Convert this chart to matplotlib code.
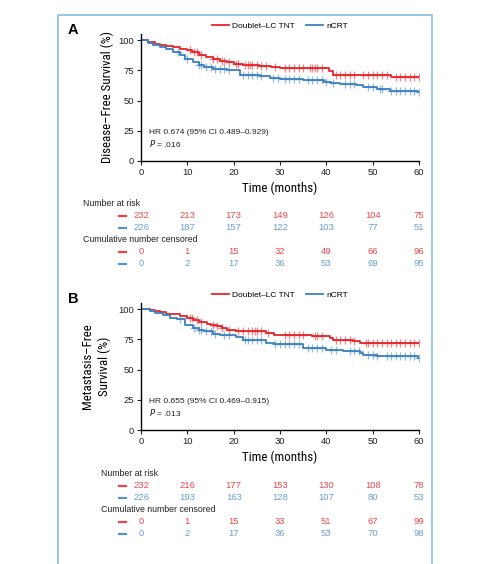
import numpy as np
import matplotlib
matplotlib.use('Agg')
import matplotlib.pyplot as plt
from matplotlib import transforms, font_manager
from matplotlib.lines import Line2D

plt.rcParams['font.family'] = ['Liberation Sans', 'DejaVu Sans']

# axis titles in the original are set in a condensed sans; use one if installed
narrow_file = None
for f in font_manager.fontManager.ttflist:
    n = (f.name + ' ' + f.fname).lower()
    if ('narrow' in n or 'condensed' in n) and f.weight in (400, 'normal') and f.style == 'normal' \
            and 'mono' not in n and 'serif' not in n.replace('sans', ''):
        narrow_file = f.fname
        if 'liberation' in n:
            break
if narrow_file:
    label_font = dict(fontproperties=font_manager.FontProperties(fname=narrow_file, size=9.3))
else:
    label_font = dict(fontsize=8.0)

# colours
red = '#e5252b'
blue = '#3b80c2'
red_txt = '#eb4a4f'
blue_txt = '#6aa0d3'

# Panel A: Disease-free survival (step changes)
dfs_tnt_t = [0, 1.6, 3, 4, 5.5, 7, 8.5, 10, 11, 12.5, 14, 15.5, 17, 18.5, 20, 22, 25.5, 28, 30, 40.5, 41.5, 47, 54, 60]
dfs_tnt_s = [100, 98.5, 97, 96, 95, 94, 93, 91.5, 90, 88, 86, 84.5, 83, 81.5, 80, 79.3, 78.5, 77.5, 76.5, 74.5, 71.5, 71, 69.8, 69.5]
dfs_ncrt_t = [0, 1.5, 2.5, 4, 5.5, 7, 8.4, 9.5, 11.3, 12.5, 13.5, 15.5, 18.5, 21.4, 25.7, 27.8, 30, 35, 39.4, 41, 43, 46.5, 48, 51, 53.7, 59.7, 60]
dfs_ncrt_s = [100, 97.5, 96, 94.5, 92.5, 90.5, 87.8, 84.3, 81.5, 79.5, 78, 76.3, 75.2, 71.3, 70.2, 68.8, 68.2, 66.6, 65.7, 64.8, 63.5, 62.8, 60.8, 59.8, 58.2, 57, 57]
dfs_tnt_cens = [10.5, 11.5, 12, 13, 15.5, 16.5, 17.5, 18, 19, 20.5, 21, 22.5, 23, 23.5, 24, 25, 26, 27, 29, 31, 32, 33, 34, 35,
                36.5, 37, 37.5, 38, 39, 42, 43, 44, 45, 46, 48, 49, 50, 51, 52, 53, 55, 56, 57, 58, 59, 60]
dfs_ncrt_cens = [8, 10, 12.5, 13, 14, 15, 16, 17, 18, 19, 22, 23, 24, 25, 26, 28.5, 29.5, 31, 32, 33, 34, 36, 37, 38, 39,
                 40, 41.5, 44, 45, 46, 49, 50, 51.5, 52, 54, 55, 56, 57, 58, 59, 60]

# Panel B: Metastasis-free survival
mfs_tnt_t = [0, 2, 3, 4.1, 5.5, 7, 8.5, 9.9, 11.3, 12.5, 14.2, 15.2, 16.3, 17.5, 18.5, 20.6, 27, 28.6, 37, 40.8, 41.5, 45.8, 47.3, 60]
mfs_tnt_s = [100, 99, 98, 97.2, 96.3, 95.6, 94.5, 93, 90.8, 89.5, 88, 87, 85.8, 84.5, 83, 81.7, 80.3, 78.3, 77.5, 76, 74.7, 73.3, 72.3, 72.2]
mfs_ncrt_t = [0, 2, 3, 4.8, 6.3, 7.7, 9.5, 11.3, 12.5, 13.5, 15.6, 17, 20.6, 22, 27, 28.6, 35, 40, 43.7, 47.3, 48, 50.9, 59.8, 60]
mfs_ncrt_s = [100, 98.5, 97, 95, 93, 91.4, 86.7, 84.5, 83, 82, 79.7, 78.9, 77, 74.2, 72.2, 71.4, 68, 66.4, 65, 63.6, 61.7, 60.8, 59.4, 59.4]
mfs_tnt_cens = [10.5, 11, 12, 13, 15.5, 16.5, 17.5, 19, 21, 22, 23, 24, 24.5, 25, 26, 27.5, 31, 32, 33, 34, 35, 37.5, 38,
                39, 42, 43, 44, 45, 46, 48.5, 49, 50, 51, 52, 53, 54, 55, 56, 57, 58, 59, 60]
mfs_ncrt_cens = [8.5, 11.5, 12.5, 13, 14, 15, 16, 18, 19, 22.5, 23, 24, 25, 26, 29, 30, 31, 32, 33, 34, 36, 37, 38, 39, 41,
                 42, 45, 46, 47, 49, 50, 51, 53, 54, 55, 56, 57, 58, 59, 60]

# risk tables
table_times = [0, 10, 20, 30, 40, 50, 60]
dfs_risk_tnt = [232, 213, 173, 149, 126, 104, 75]
dfs_risk_ncrt = [226, 187, 157, 122, 103, 77, 51]
dfs_cens_tnt = [0, 1, 15, 32, 49, 66, 96]
dfs_cens_ncrt = [0, 2, 17, 36, 53, 69, 95]
mfs_risk_tnt = [232, 216, 177, 153, 130, 108, 78]
mfs_risk_ncrt = [226, 193, 163, 128, 107, 80, 53]
mfs_cens_tnt = [0, 1, 15, 33, 51, 67, 99]
mfs_cens_ncrt = [0, 2, 17, 36, 53, 70, 98]

W, H = 495, 564
fig = plt.figure(figsize=(W / 100, H / 100), dpi=100)


def fx(px):
    return px / W


def fy(py):
    return 1 - py / H


# light blue frame around the figure panel
fig.add_artist(Line2D([fx(58), fx(58), fx(432), fx(432)], [0, fy(15), fy(15), 0],
                      transform=fig.transFigure, color='#86bde0', lw=1.2))


def surv_at(times, surv, t):
    i = np.searchsorted(times, t, side='right') - 1
    return surv[max(i, 0)]


def km_panel(top, letter, ylabel, ylabel_x, hr, pval,
             tnt_t, tnt_s, ncrt_t, ncrt_s, tnt_c, ncrt_c):
    ax = fig.add_axes([fx(141), fy(top + 127), fx(419) - fx(141), 127 / H])
    ax.step(tnt_t, tnt_s, where='post', color=red, lw=1.3, label='Doublet\u2013LC TNT')
    ax.step(ncrt_t, ncrt_s, where='post', color=blue, lw=1.3, label='nCRT')
    ax.plot(tnt_c, [surv_at(tnt_t, tnt_s, c) for c in tnt_c], '+', color=red,
            ms=5.5, mew=0.9, alpha=0.55)
    ax.plot(ncrt_c, [surv_at(ncrt_t, ncrt_s, c) for c in ncrt_c], '+', color=blue,
            ms=5.5, mew=0.9, alpha=0.55)
    ax.set_xlim(0, 60)
    ax.set_ylim(0, 105)
    ax.set_xticks(table_times)
    ax.set_yticks([0, 25, 50, 75, 100])
    for s in ['top', 'right']:
        ax.spines[s].set_visible(False)
    ax.spines['left'].set_linewidth(1.0)
    ax.spines['bottom'].set_linewidth(1.0)
    ax.tick_params(labelsize=6.8, length=3, width=0.8, pad=2, colors='#222222')
    ax.legend(loc='center', bbox_to_anchor=(0.5, 1.063), ncol=2, frameon=False,
              fontsize=6.0, handlelength=2.0, columnspacing=1.4, handletextpad=0.4)
    ax.text(0.03, 0.21, hr, transform=ax.transAxes, fontsize=6.0, color='#222222')
    ax.text(0.03, 0.11, '$P$ = ' + pval, transform=ax.transAxes, fontsize=6.0, color='#222222')
    fig.text(fx(68), fy(top - 4), letter, fontsize=10.5, fontweight='bold', va='center')
    fig.text(fx(ylabel_x), fy(top + 63), ylabel, rotation=90, ha='center', va='center',
             linespacing=1.3, **label_font)
    fig.text(fx(280), fy(top + 154), 'Time (months)', ha='center', va='center', **label_font)
    return ax


def risk_table(ax, y0, title_x, risk_tnt, risk_ncrt, cens_tnt, cens_ncrt):
    tr = transforms.blended_transform_factory(ax.transData, fig.transFigure)
    rows = [(y0, None, 'Number at risk', None),
            (y0 + 12, red_txt, risk_tnt, red),
            (y0 + 24, blue_txt, risk_ncrt, blue),
            (y0 + 36, None, 'Cumulative number censored', None),
            (y0 + 48, red_txt, cens_tnt, red),
            (y0 + 60, blue_txt, cens_ncrt, blue)]
    for y, c, vals, lc in rows:
        if c is None:
            fig.text(fx(title_x), fy(y), vals, fontsize=6.3, va='center', color='#222222')
        else:
            fig.add_artist(Line2D([fx(119), fx(126)], [fy(y), fy(y)], transform=fig.transFigure,
                                  color=lc, lw=1.6, alpha=0.85))
            for t, v in zip(table_times, vals):
                fig.text(t, fy(y), str(v), transform=tr, fontsize=6.8, ha='center',
                         va='center', color=c)


axA = km_panel(34, 'A', 'Disease\u2013Free Survival (%)', 107, 'HR 0.674 (95% CI 0.489\u20130.929)', '.016',
               dfs_tnt_t, dfs_tnt_s, dfs_ncrt_t, dfs_ncrt_s, dfs_tnt_cens, dfs_ncrt_cens)
risk_table(axA, 204, 83, dfs_risk_tnt, dfs_risk_ncrt, dfs_cens_tnt, dfs_cens_ncrt)

axB = km_panel(303, 'B', 'Metastasis\u2013Free\nSurvival (%)', 96, 'HR 0.655 (95% CI 0.469\u20130.915)', '.013',
               mfs_tnt_t, mfs_tnt_s, mfs_ncrt_t, mfs_ncrt_s, mfs_tnt_cens, mfs_ncrt_cens)
risk_table(axB, 474, 101, mfs_risk_tnt, mfs_risk_ncrt, mfs_cens_tnt, mfs_cens_ncrt)

fig.savefig('out.png', dpi=100)
